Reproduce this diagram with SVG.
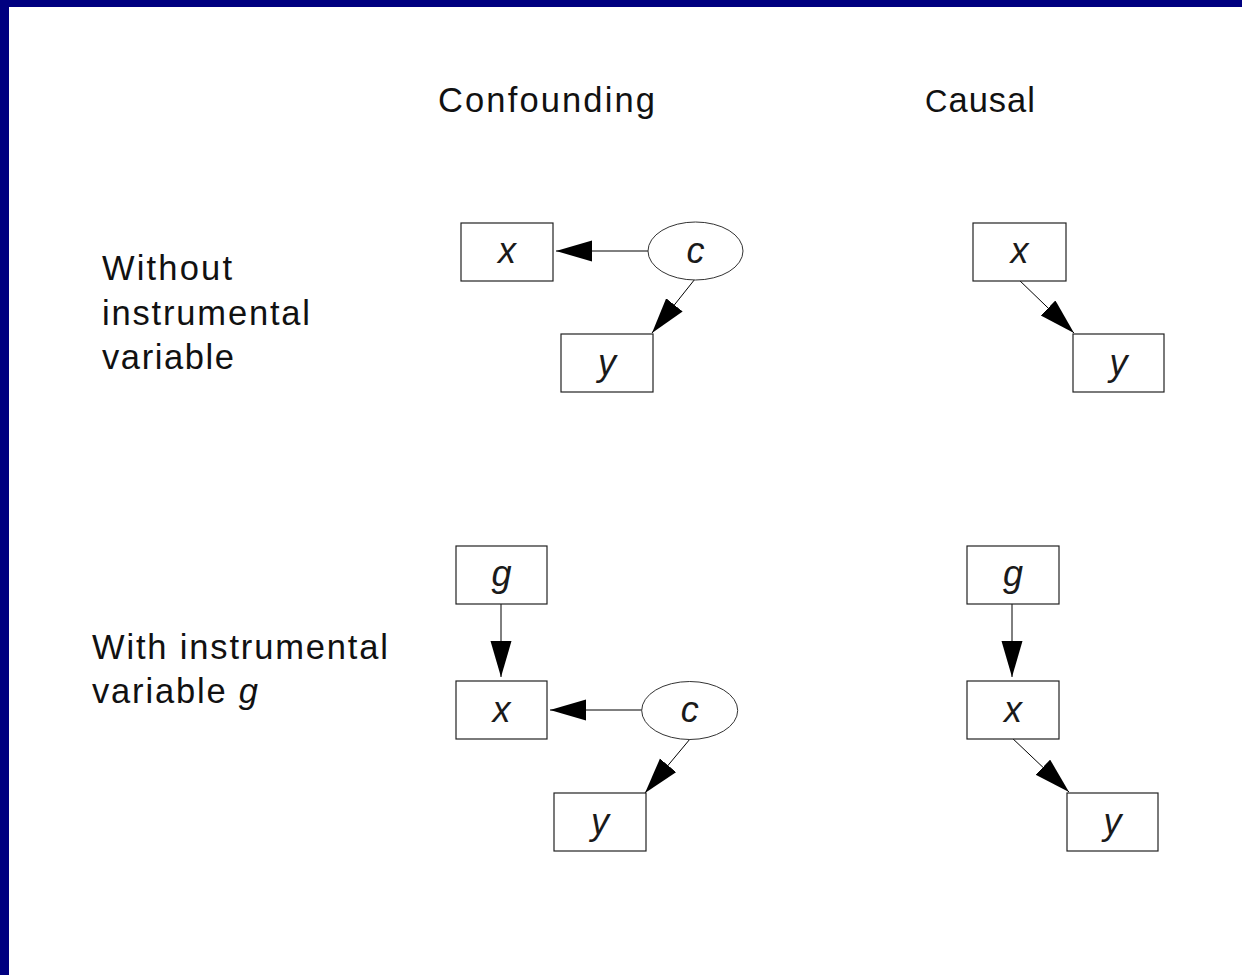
<svg xmlns="http://www.w3.org/2000/svg" width="1242" height="975" viewBox="0 0 1242 975">
<defs>
<marker id="ah" markerUnits="userSpaceOnUse" markerWidth="37" markerHeight="22" refX="36" refY="10.5" orient="auto">
<path d="M0,0 L36,10.5 L0,21 Z" fill="#000"/>
</marker>
<style>
.box{fill:#fff;stroke:#222;stroke-width:1.2}
.ell{fill:#fff;stroke:#333;stroke-width:1}
.nt{font-family:"Liberation Sans",Arial,sans-serif;font-style:italic;font-size:36px;fill:#1a1a1a;text-anchor:middle}
.lab{font-family:"Liberation Sans",Arial,sans-serif;font-size:34.5px;fill:#111}
.edge{stroke:#000;stroke-width:1;fill:none;marker-end:url(#ah)}
</style>
</defs>
<rect x="0" y="0" width="1242" height="975" fill="#fff"/>
<rect x="0" y="0" width="1242" height="7" fill="#000080"/>
<rect x="0" y="0" width="9" height="975" fill="#000080"/>

<text class="lab" x="438" y="112" textLength="217" lengthAdjust="spacing">Confounding</text>
<text class="lab" x="925" y="112" textLength="110" lengthAdjust="spacing"><tspan font-size="31">C</tspan>ausal</text>
<text class="lab" x="102" y="280" textLength="130" lengthAdjust="spacing">Without</text>
<text class="lab" x="102" y="325" textLength="208" lengthAdjust="spacing">instrumental</text>
<text class="lab" x="102" y="369" textLength="132" lengthAdjust="spacing">variable</text>
<text class="lab" x="92" y="659" textLength="296" lengthAdjust="spacing">With instrumental</text>
<text class="lab" x="92" y="703" textLength="166" lengthAdjust="spacing">variable <tspan font-style="italic">g</tspan></text>

<g id="connectors">
<line class="edge" x1="648" y1="251" x2="556" y2="251"/>
<line class="edge" x1="695" y1="279" x2="652" y2="333"/>
<line class="edge" x1="1017" y1="278" x2="1074" y2="333"/>
<line class="edge" x1="501" y1="604" x2="501" y2="677"/>
<line class="edge" x1="642" y1="710" x2="550" y2="710"/>
<line class="edge" x1="690" y1="739" x2="645" y2="793"/>
<line class="edge" x1="1012" y1="604" x2="1012" y2="677"/>
<line class="edge" x1="1010" y1="736" x2="1069" y2="792"/>
</g>

<g id="n1x"><rect class="box" x="461" y="223" width="92" height="58"/><text class="nt" x="507" y="263">x</text></g>
<g id="n1c"><ellipse class="ell" cx="695.5" cy="251" rx="47.5" ry="29"/><text class="nt" x="695.5" y="263">c</text></g>
<g id="n1y"><rect class="box" x="561" y="334" width="92" height="58"/><text class="nt" x="607" y="375">y</text></g>

<g id="n2x"><rect class="box" x="973" y="223" width="93" height="58"/><text class="nt" x="1019.5" y="263">x</text></g>
<g id="n2y"><rect class="box" x="1073" y="334" width="91" height="58"/><text class="nt" x="1118.5" y="375">y</text></g>

<g id="n3g"><rect class="box" x="456" y="546" width="91" height="58"/><text class="nt" x="501.5" y="586">g</text></g>
<g id="n3x"><rect class="box" x="456" y="681" width="91" height="58"/><text class="nt" x="501.5" y="722">x</text></g>
<g id="n3c"><ellipse class="ell" cx="689.7" cy="710.5" rx="48" ry="29"/><text class="nt" x="689.7" y="722">c</text></g>
<g id="n3y"><rect class="box" x="554" y="793" width="92" height="58"/><text class="nt" x="600" y="834">y</text></g>

<g id="n4g"><rect class="box" x="967" y="546" width="92" height="58"/><text class="nt" x="1013" y="586">g</text></g>
<g id="n4x"><rect class="box" x="967" y="681" width="92" height="58"/><text class="nt" x="1013" y="722">x</text></g>
<g id="n4y"><rect class="box" x="1067" y="793" width="91" height="58"/><text class="nt" x="1112.5" y="834">y</text></g>
</svg>
